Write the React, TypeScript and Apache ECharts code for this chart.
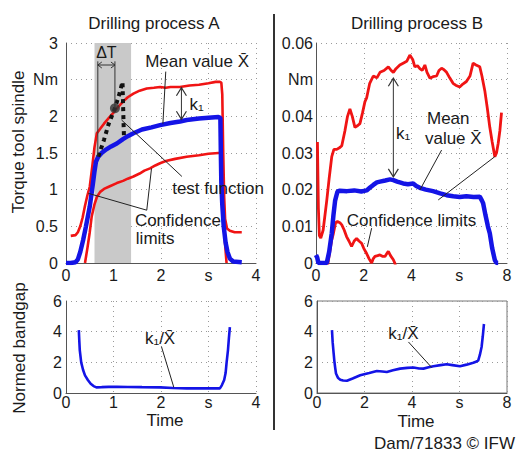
import React, { useEffect, useRef } from "react";
import * as echarts from "echarts";

const FONT = "'Liberation Sans', Arial, sans-serif";

// ---------- Data ----------
// Drilling process A: torque [s, Nm]
const aUpper: number[][] = [
  [0.1, 0.37], [0.2, 0.38], [0.25, 0.42], [0.3, 0.5], [0.35, 0.62], [0.4, 0.78], [0.45, 0.92],
  [0.5, 1.04], [0.55, 1.3], [0.6, 1.58], [0.65, 1.77], [0.72, 1.83], [0.8, 1.9], [0.93, 2.0],
  [1.0, 2.05], [1.1, 2.13], [1.2, 2.2], [1.3, 2.26], [1.42, 2.31], [1.55, 2.35], [1.7, 2.38],
  [1.85, 2.39], [1.98, 2.4], [2.1, 2.39], [2.2, 2.4], [2.4, 2.4], [2.6, 2.42], [2.8, 2.43],
  [3.0, 2.45], [3.15, 2.47], [3.24, 2.47], [3.27, 2.46], [3.29, 2.3], [3.31, 1.5], [3.33, 0.9],
  [3.35, 0.6], [3.39, 0.47], [3.45, 0.44], [3.55, 0.42], [3.7, 0.42],
];
const aMean: number[][] = [
  [0, 0], [0.1, 0], [0.2, 0.01], [0.25, 0.05], [0.3, 0.15], [0.36, 0.31], [0.42, 0.5], [0.5, 0.77],
  [0.55, 1.0], [0.6, 1.25], [0.63, 1.38], [0.68, 1.45], [0.75, 1.5], [0.85, 1.55], [0.95, 1.59],
  [1.07, 1.63], [1.2, 1.69], [1.3, 1.73], [1.42, 1.77], [1.6, 1.82], [1.8, 1.85], [1.98, 1.88],
  [2.2, 1.91], [2.4, 1.93], [2.54, 1.95], [2.8, 1.97], [3.0, 1.98], [3.21, 1.99], [3.25, 1.98],
  [3.26, 1.5], [3.27, 1.1], [3.29, 0.8], [3.32, 0.5], [3.36, 0.28], [3.4, 0.15], [3.45, 0.06],
  [3.52, 0.02], [3.7, 0.01],
];
const aLower: number[][] = [
  [0.4, 0], [0.45, 0.2], [0.5, 0.42], [0.54, 0.63], [0.6, 0.8], [0.65, 0.9], [0.72, 0.97],
  [0.8, 1.01], [0.9, 1.04], [1.07, 1.09], [1.2, 1.12], [1.3, 1.15], [1.42, 1.18], [1.55, 1.22],
  [1.65, 1.26], [1.77, 1.29], [1.88, 1.33], [1.98, 1.36], [2.1, 1.39], [2.3, 1.42], [2.54, 1.45],
  [2.8, 1.47], [3.0, 1.49], [3.21, 1.5], [3.26, 1.5], [3.28, 1.3], [3.3, 1.0], [3.32, 0.6],
  [3.35, 0.25], [3.38, 0],
];
const aTest: number[][] = [
  [0.68, 1.45], [0.8, 1.68], [0.9, 1.9], [1.03, 2.11], [1.12, 2.3], [1.19, 2.47], [1.2, 2.2],
  [1.21, 1.95], [1.22, 1.72],
];
const aTestPoint: number[][] = [[1.03, 2.11]];
const aWindow = [0.6, 1.37];

// Drilling process B: torque [s, Nm]
const bUpper: number[][] = [
  [0.06, 0.033], [0.1, 0.015], [0.14, 0.0075], [0.2, 0.0068], [0.3, 0.009], [0.45, 0.017],
  [0.55, 0.023], [0.66, 0.029], [0.75, 0.031], [0.87, 0.031], [1.0, 0.0315], [1.08, 0.032],
  [1.21, 0.036], [1.32, 0.04], [1.42, 0.042], [1.52, 0.04], [1.63, 0.037], [1.75, 0.0375],
  [1.84, 0.038], [1.95, 0.041], [2.05, 0.044], [2.12, 0.045], [2.25, 0.049], [2.4, 0.051],
  [2.55, 0.0505], [2.68, 0.052], [2.85, 0.0525], [3.03, 0.0535], [3.15, 0.0525], [3.24, 0.052],
  [3.35, 0.053], [3.51, 0.054], [3.65, 0.0545], [3.8, 0.055], [3.93, 0.0567], [4.05, 0.0555],
  [4.14, 0.0535], [4.25, 0.0538], [4.35, 0.053], [4.45, 0.0525], [4.56, 0.054], [4.65, 0.052],
  [4.77, 0.0504], [4.9, 0.0508], [5.05, 0.051], [5.15, 0.0525], [5.26, 0.0531], [5.35, 0.0528],
  [5.47, 0.052], [5.6, 0.0505], [5.74, 0.049], [5.85, 0.0485], [6.02, 0.048], [6.15, 0.0488],
  [6.3, 0.0495], [6.45, 0.051], [6.58, 0.0545], [6.7, 0.054], [6.86, 0.0535], [6.95, 0.051],
  [7.07, 0.047], [7.18, 0.042], [7.28, 0.037], [7.38, 0.033], [7.49, 0.029], [7.56, 0.03],
  [7.63, 0.0326], [7.7, 0.036], [7.77, 0.041],
];
const bMean: number[][] = [
  [0, 0.0022], [0.05, 0.0015], [0.1, 0], [0.45, 0], [0.55, 0.003], [0.66, 0.0081], [0.73, 0.013],
  [0.8, 0.017], [0.9, 0.0195], [1.0, 0.0197], [1.3, 0.0196], [1.6, 0.0198], [1.9, 0.0195],
  [2.12, 0.0198], [2.25, 0.0205], [2.4, 0.0213], [2.55, 0.022], [2.68, 0.0222], [2.9, 0.0225],
  [3.1, 0.0228], [3.24, 0.0226], [3.4, 0.0222], [3.65, 0.0217], [3.85, 0.0215], [4.07, 0.0217],
  [4.2, 0.021], [4.35, 0.0205], [4.6, 0.02], [4.9, 0.0196], [5.2, 0.019], [5.47, 0.0185],
  [5.75, 0.0182], [6.02, 0.018], [6.3, 0.0182], [6.6, 0.018], [6.86, 0.0181], [6.95, 0.017],
  [7.0, 0.0163], [7.1, 0.013], [7.2, 0.01], [7.28, 0.0081], [7.38, 0.004], [7.49, 0.0008],
  [7.56, 0], [7.63, 0],
];
const bLower: number[][] = [
  [0.45, -0.002], [0.55, 0.002], [0.65, 0.006], [0.73, 0.0081], [0.82, 0.011], [0.9, 0.0113],
  [1.0, 0.011], [1.08, 0.0104], [1.18, 0.009], [1.28, 0.0072], [1.38, 0.006], [1.49, 0.0045],
  [1.6, 0.006], [1.7, 0.0067], [1.8, 0.006], [1.91, 0.0054], [2.0, 0.004], [2.12, 0.0026],
  [2.22, 0.0012], [2.33, 0], [2.4, 0.0012], [2.47, 0.0018], [2.58, 0.002], [2.68, 0.0022],
  [2.8, 0.0018], [2.89, 0.0018], [2.96, 0.0025], [3.03, 0.0032], [3.12, 0.002], [3.24, 0.0009],
  [3.3, 0], [3.38, -0.002],
];

// Normed bandgap k1 / X
const aBand: number[][] = [
  [0.27, 4.1], [0.28, 3.4], [0.29, 2.8], [0.32, 2.0], [0.36, 1.5], [0.4, 1.15], [0.46, 0.85],
  [0.52, 0.6], [0.58, 0.45], [0.64, 0.37], [0.75, 0.38], [0.9, 0.4], [1.07, 0.4], [1.3, 0.39],
  [1.6, 0.38], [1.98, 0.37], [2.25, 0.33], [2.54, 0.3], [2.9, 0.3], [3.1, 0.3], [3.24, 0.3],
  [3.28, 0.5], [3.33, 0.85], [3.36, 1.3], [3.38, 1.95], [3.41, 2.8], [3.43, 3.6], [3.45, 4.3],
];
const bBand: number[][] = [
  [0.63, 4.1], [0.66, 3.3], [0.7, 2.6], [0.73, 2.1], [0.77, 1.6], [0.8, 1.27], [0.88, 1.0],
  [0.98, 0.87], [1.1, 0.82], [1.26, 0.8], [1.5, 0.95], [1.82, 1.16], [2.2, 1.3], [2.52, 1.43],
  [2.75, 1.4], [2.94, 1.37], [3.2, 1.48], [3.5, 1.59], [3.8, 1.64], [4.06, 1.66], [4.3, 1.6],
  [4.48, 1.59], [4.7, 1.68], [4.9, 1.75], [5.2, 1.82], [5.46, 1.87], [5.7, 1.82], [6.02, 1.75],
  [6.3, 1.85], [6.58, 1.97], [6.72, 2.05], [6.79, 2.13], [6.86, 2.5], [6.93, 3.0], [6.98, 3.7],
  [7.03, 4.5],
];

// Annotation anchors in data coordinates
const aK1 = { x: 2.43, y1: 2.39, y2: 1.96 };
const bK1 = { x: 3.24, y1: 0.0504, y2: 0.0235 };
const aDeltaT = { x1: 0.67, x2: 1.03, y: 2.7, top: 2.75, bottom1: 1.45, bottom2: 2.11 };

const RED = "#f01414";
const BLUE = "#1414e6";
const TXT = "#1a1a1a";
const TS = 17; // annotation / title font size
const TK = 16; // tick font size

function fmtA(v: number) {
  if (Math.abs(v - 2.5) < 1e-9) return "Nm";
  return String(Number(v.toFixed(2)));
}
function fmtB(v: number) {
  if (Math.abs(v - 0.05) < 1e-9) return "Nm";
  return String(Number(v.toFixed(3)));
}
function fmtXs(sVal: number) {
  return (v: number) => (Math.abs(v - sVal) < 1e-9 ? "s" : String(v));
}

export default function App() {
  const ref = useRef<HTMLDivElement>(null);
  useEffect(() => {
    const chart = echarts.init(ref.current!, null, { renderer: "svg" });
    const axisLabel = { fontSize: TK, color: TXT, fontFamily: FONT };
    const split = { show: true, lineStyle: { type: [1, 4], color: "#9a9a9a", width: 1 } };
    const axLine = { show: true, onZero: false, lineStyle: { color: "#555", width: 1 } };

    const line = (gi: number, data: number[][], color: string, width: number, extra: any = {}) => ({
      type: "line",
      xAxisIndex: gi,
      yAxisIndex: gi,
      data,
      symbol: "none",
      smooth: false,
      lineStyle: { color, width },
      z: 3,
      ...extra,
    });

    const option: any = {
      animation: false,
      textStyle: { fontFamily: FONT },
      grid: [
        { left: 66, top: 43, width: 190, height: 220 },
        { left: 316, top: 43, width: 191, height: 220 },
        { left: 66, top: 301, width: 190, height: 92 },
        { left: 317, top: 301, width: 190, height: 92, show: true, borderColor: "#777", borderWidth: 1 },
      ],
      xAxis: [
        { gridIndex: 0, type: "value", min: 0, max: 4, interval: 1, axisLine: axLine, axisTick: { show: false }, splitLine: split, axisLabel: { ...axisLabel, margin: 4, formatter: fmtXs(3) } },
        { gridIndex: 1, type: "value", min: 0, max: 8, interval: 2, axisLine: axLine, axisTick: { show: false }, splitLine: split, axisLabel: { ...axisLabel, margin: 4, formatter: fmtXs(6) } },
        { gridIndex: 2, type: "value", min: 0, max: 4, interval: 1, axisLine: axLine, axisTick: { show: false }, splitLine: split, axisLabel: { ...axisLabel, margin: 1, formatter: fmtXs(3) } },
        { gridIndex: 3, type: "value", min: 0, max: 8, interval: 2, axisLine: axLine, axisTick: { show: false }, splitLine: split, axisLabel: { ...axisLabel, margin: 1, formatter: fmtXs(6) } },
      ],
      yAxis: [
        { gridIndex: 0, type: "value", min: 0, max: 3, interval: 0.5, axisLine: axLine, axisTick: { show: false }, splitLine: split, axisLabel: { ...axisLabel, margin: 8, formatter: fmtA } },
        { gridIndex: 1, type: "value", min: 0, max: 0.06, interval: 0.01, axisLine: axLine, axisTick: { show: false }, splitLine: split, axisLabel: { ...axisLabel, margin: 3, formatter: fmtB } },
        { gridIndex: 2, type: "value", min: 0, max: 6, interval: 2, axisLine: axLine, axisTick: { show: false }, splitLine: split, axisLabel: { ...axisLabel, margin: 4 } },
        { gridIndex: 3, type: "value", min: 0, max: 6, interval: 2, axisLine: axLine, axisTick: { show: false }, splitLine: split, axisLabel: { ...axisLabel, margin: 4 } },
      ],
      series: [
        {
          type: "line", xAxisIndex: 0, yAxisIndex: 0, data: [], symbol: "none", z: 1,
          markArea: {
            silent: true,
            itemStyle: { color: "#c9c9c9" },
            data: [[{ xAxis: aWindow[0] }, { xAxis: aWindow[1] }]],
          },
        },
        line(0, aUpper, RED, 2.6),
        line(0, aLower, RED, 2.6),
        line(0, aMean, BLUE, 4.5),
        line(0, aTest, "#111", 4, { lineStyle: { color: "#111", width: 4, type: [4, 4] }, z: 4 }),
        { type: "scatter", xAxisIndex: 0, yAxisIndex: 0, data: aTestPoint, symbolSize: 10, itemStyle: { color: "#333" }, z: 5 },
        line(1, bUpper, RED, 2.8),
        line(1, bLower, RED, 2.8),
        line(1, bMean, BLUE, 4.5),
        line(2, aBand, BLUE, 2.6),
        line(3, bBand, BLUE, 2.6),
      ],
    };
    chart.setOption(option);

    const P = (gi: number, x: number, y: number) => chart.convertToPixel({ gridIndex: gi } as any, [x, y]) as number[];
    const g: any[] = [];
    const ln = (a: number[], b: number[], w = 1, c = "#222") =>
      g.push({ type: "line", shape: { x1: a[0], y1: a[1], x2: b[0], y2: b[1] }, style: { stroke: c, lineWidth: w }, z: 100 });
    const pl = (pts: number[][], w = 1, c = "#222") =>
      g.push({ type: "polyline", shape: { points: pts }, style: { stroke: c, lineWidth: w, fill: null }, z: 100 });
    const tx = (x: number, y: number, text: string, opts: any = {}) =>
      g.push({
        type: "text", x, y, z: 101,
        rotation: opts.rotation || 0,
        style: { text, fill: TXT, font: `${opts.size || TS}px ${FONT}`, align: opts.align || "center", verticalAlign: "middle" },
      });
    const vArrow = (top: number[], bottom: number[], hw: number, hh: number, c = "#333") => {
      ln(top, bottom, 1, c);
      pl([[top[0] - hw, top[1] + hh], top, [top[0] + hw, top[1] + hh]], 1.2, c);
      pl([[bottom[0] - hw, bottom[1] - hh], bottom, [bottom[0] + hw, bottom[1] - hh]], 1.2, c);
    };

    // layout texts
    tx(154, 23, "Drilling process A");
    tx(417, 23, "Drilling process B");
    tx(18, 142, "Torque tool spindle", { rotation: Math.PI / 2 });
    tx(19, 348, "Normed bandgap", { rotation: Math.PI / 2 });
    tx(165, 420, "Time");
    tx(416, 421, "Time");
    tx(515, 443, "Dam/71833 © IFW", { align: "right" });
    ln([274, 14], [274, 430], 2, "#333");

    // Panel A annotations
    {
      const t = P(0, aK1.x, aK1.y1), b = P(0, aK1.x, aK1.y2);
      vArrow(t, b, 5, 8);
      tx(b[0] + 8, (t[1] + b[1]) / 2 + 1, "k₁", { align: "left" });
      const l1 = P(0, aDeltaT.x1, aDeltaT.top), l1b = P(0, aDeltaT.x1, aDeltaT.bottom1);
      const r1 = P(0, aDeltaT.x2, aDeltaT.top), r1b = P(0, aDeltaT.x2, aDeltaT.bottom2);
      ln(l1, l1b, 1, "#333");
      ln(r1, r1b, 1, "#333");
      const al = P(0, aDeltaT.x1, aDeltaT.y), ar = P(0, aDeltaT.x2, aDeltaT.y);
      ln(al, ar, 1, "#333");
      pl([[al[0] + 4, al[1] - 3], al, [al[0] + 4, al[1] + 3]], 1, "#333");
      pl([[ar[0] - 4, ar[1] - 3], ar, [ar[0] - 4, ar[1] + 3]], 1, "#333");
      const dt = P(0, (aDeltaT.x1 + aDeltaT.x2) / 2, 2.87);
      tx(dt[0], dt[1], "ΔT", { size: 16 });
      const mv = P(0, 2.76, 2.75);
      tx(mv[0], mv[1], "Mean value X̄");
      ln(P(0, 2.1, 2.61), P(0, 2.04, 1.9));
      const tf = P(0, 3.2, 1.02);
      tx(tf[0], tf[1], "test function");
      ln(P(0, 2.44, 1.18), P(0, 1.17, 1.95));
      const cf = P(0, 1.45, 0.575);
      tx(cf[0], cf[1], "Confidence", { align: "left" });
      const lm = P(0, 1.47, 0.33);
      tx(lm[0], lm[1], "limits", { align: "left" });
      ln(P(0, 1.7, 0.72), P(0, 0.47, 0.95));
      ln(P(0, 1.7, 0.72), P(0, 1.8, 1.29));
    }
    // Panel B annotations
    {
      const t = P(1, bK1.x, bK1.y1), b = P(1, bK1.x, bK1.y2);
      vArrow(t, b, 5, 8);
      const k = P(1, 3.65, 0.0354);
      tx(k[0], k[1], "k₁");
      const m1 = P(1, 5.54, 0.0395);
      tx(m1[0], m1[1], "Mean");
      const m2 = P(1, 5.75, 0.034);
      tx(m2[0], m2[1], "value X̄");
      ln(P(1, 5.26, 0.0308), P(1, 4.35, 0.0199));
      const cl = P(1, 4.0, 0.0117);
      tx(cl[0], cl[1], "Confidence limits");
      ln(P(1, 5.12, 0.0172), P(1, 7.49, 0.029));
      ln(P(1, 2.33, 0.0095), P(1, 2.15, 0.0044));
    }
    // Bandgap annotations
    {
      const a = P(2, 1.98, 3.57);
      tx(a[0], a[1], "k₁/X̄");
      ln(P(2, 2.01, 3.02), P(2, 2.27, 0.37));
      const b = P(3, 3.64, 3.87);
      tx(b[0], b[1], "k₁/X̄");
      ln(P(3, 3.85, 3.33), P(3, 4.83, 1.66));
    }

    chart.setOption({ graphic: g });
    return () => chart.dispose();
  }, []);
  return <div ref={ref} style={{ position: "fixed", left: 0, top: 0, width: 516, height: 452, background: "#fff" }} />;
}
